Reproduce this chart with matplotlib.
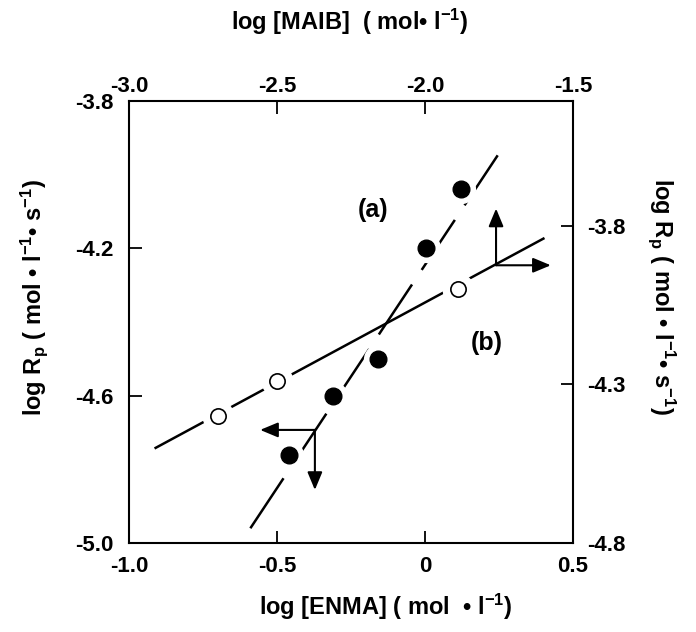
import matplotlib
matplotlib.use("Agg")
import matplotlib.pyplot as plt

plt.rcParams["font.family"] = ["Liberation Sans", "DejaVu Sans"]
plt.rcParams["font.weight"] = "bold"
plt.rcParams["mathtext.fontset"] = "custom"
plt.rcParams["mathtext.rm"] = "Liberation Sans:bold"
plt.rcParams["mathtext.default"] = "rm"
plt.rcParams["axes.unicode_minus"] = False

# (a) log Rp vs log [ENMA]  (bottom / left axes)
enma = [-0.46, -0.31, -0.16, 0.005, 0.12]
rp_a = [-4.76, -4.60, -4.50, -4.20, -4.04]
fit_a_x = [-0.59, 0.26]
fit_a_y = [-4.96, -3.93]

# (b) log Rp vs log [MAIB]  (top / right axes)
maib = [-2.70, -2.50, -1.89]
rp_b = [-4.40, -4.29, -4.00]
fit_b_x = [-2.91, -1.60]
fit_b_y = [-4.50, -3.84]

bottom_ticks = [-1.0, -0.5, 0, 0.5]
bottom_labels = ["-1.0", "-0.5", "0", "0.5"]
left_ticks = [-5.0, -4.6, -4.2, -3.8]
left_labels = ["-5.0", "-4.6", "-4.2", "-3.8"]
top_ticks = [-3.0, -2.5, -2.0, -1.5]
top_labels = ["-3.0", "-2.5", "-2.0", "-1.5"]
right_ticks = [-4.8, -4.3, -3.8]
right_labels = ["-4.8", "-4.3", "-3.8"]

W, H = 696, 632
fig = plt.figure(figsize=(W / 100, H / 100), dpi=100)
rect = [129 / W, 1 - 543 / H, 444 / W, 442 / H]

ax = fig.add_axes(rect)
ax2 = fig.add_axes(rect, frameon=False)

ax.set_xlim(-1.0, 0.5)
ax.set_ylim(-5.0, -3.8)
ax2.set_xlim(-3.0, -1.5)
ax2.set_ylim(-4.8, -3.406)

for s in ax.spines.values():
    s.set_linewidth(1.5)

ax.set_xticks(bottom_ticks)
ax.set_xticklabels(bottom_labels)
ax.set_yticks(left_ticks)
ax.set_yticklabels(left_labels)
ax.tick_params(direction="in", length=9, width=1.3, labelsize=16)
ax.tick_params(axis="x", pad=9)
ax.tick_params(axis="y", pad=11)

ax2.xaxis.tick_top()
ax2.yaxis.tick_right()
ax2.set_xticks(top_ticks)
ax2.set_xticklabels(top_labels)
ax2.set_yticks(right_ticks)
ax2.set_yticklabels(right_labels)
ax2.tick_params(direction="in", length=9, width=1.3, labelsize=16)
ax2.tick_params(axis="x", pad=3)
ax2.tick_params(axis="y", pad=10)

# line (a), long dashes, white gaps round the markers
ax.plot(fit_a_x, fit_a_y, color="black", lw=1.8, ls=(0, (24, 7)), zorder=1)
ax.plot(enma, rp_a, "o", color="white", ms=20, zorder=2)
ax.plot(enma, rp_a, "o", color="black", ms=12, zorder=3)

# line (b), solid, gaps at markers
ax2.plot(fit_b_x, fit_b_y, color="black", lw=1.8, zorder=1)
ax2.plot(maib, rp_b, "o", color="white", ms=22, zorder=2)
ax2.plot(maib, rp_b, "o", mfc="white", mec="black", mew=1.2, ms=11, zorder=3)

arrow = dict(arrowstyle="-|>,head_length=0.6,head_width=0.25", color="black",
             lw=1.5, mutation_scale=18, shrinkA=0, shrinkB=0)
ax.annotate("", xy=(-0.557, -4.693), xytext=(-0.372, -4.693), arrowprops=arrow)
ax.annotate("", xy=(-0.372, -4.856), xytext=(-0.372, -4.693), arrowprops=arrow)
ax.annotate("", xy=(0.240, -4.092), xytext=(0.240, -4.246), arrowprops=arrow)
ax.annotate("", xy=(0.425, -4.246), xytext=(0.240, -4.246), arrowprops=arrow)

ax.text(-0.176, -4.095, "(a)", fontsize=18, ha="center", va="center")
ax.text(0.209, -4.456, "(b)", fontsize=18, ha="center", va="center")

fig.text(350 / W, 1 - 22 / H, r"log [MAIB]  ( mol• l$^{-1}$)",
         fontsize=17, ha="center", va="center")
fig.text(386 / W, 1 - 607 / H, r"log [ENMA] ( mol  • l$^{-1}$)",
         fontsize=17, ha="center", va="center")
fig.text(34 / W, 1 - 297 / H,
         r"log R$_{p}$ ( mol • l$^{-1}$• s$^{-1}$)",
         fontsize=17, ha="center", va="center", rotation=90)
fig.text(662 / W, 1 - 297 / H,
         r"log R$_{p}$ ( mol • l$^{-1}$• s$^{-1}$)",
         fontsize=17, ha="center", va="center", rotation=270)

fig.savefig("out.png", dpi=100)
